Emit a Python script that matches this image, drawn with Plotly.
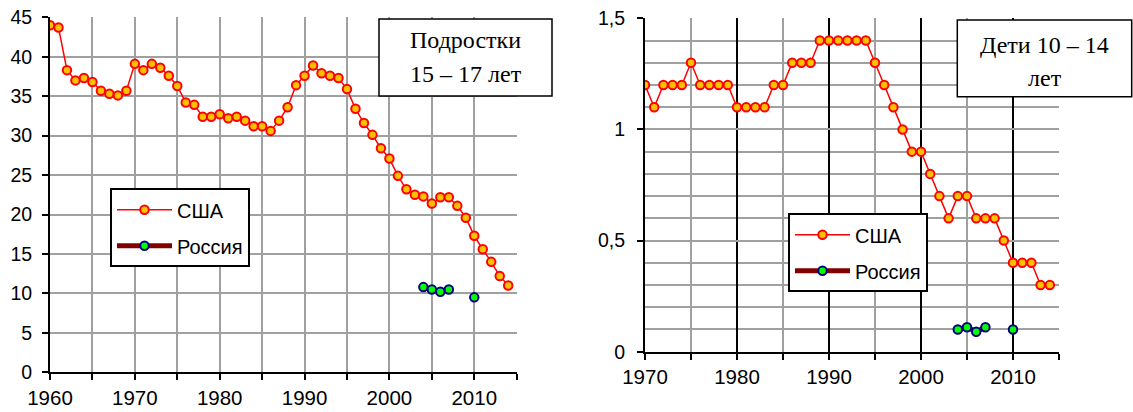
import plotly.graph_objects as go

# ---- data ----
years_teen = list(range(1960, 2015))
usa_teen = [44.0, 43.7, 38.3, 37.0, 37.3, 36.8, 35.7, 35.3, 35.1, 35.7,
            39.1, 38.3, 39.1, 38.6, 37.6, 36.3, 34.2, 33.9, 32.4, 32.4,
            32.7, 32.2, 32.4, 31.9, 31.2, 31.2, 30.6, 31.9, 33.6, 36.4,
            37.6, 38.9, 37.9, 37.6, 37.3, 35.9, 33.4, 31.6, 30.1, 28.4,
            27.1, 24.9, 23.2, 22.5, 22.3, 21.4, 22.2, 22.2, 21.1, 19.6,
            17.3, 15.6, 14.0, 12.2, 11.0]
russia_years = [2004, 2005, 2006, 2007, 2008, 2009, 2010]
russia_teen = [10.8, 10.5, 10.2, 10.5, None, None, 9.5]

years_child = list(range(1970, 2015))
usa_child = [1.2, 1.1, 1.2, 1.2, 1.2, 1.3, 1.2, 1.2, 1.2, 1.2,
             1.1, 1.1, 1.1, 1.1, 1.2, 1.2, 1.3, 1.3, 1.3, 1.4,
             1.4, 1.4, 1.4, 1.4, 1.4, 1.3, 1.2, 1.1, 1.0, 0.9,
             0.9, 0.8, 0.7, 0.6, 0.7, 0.7, 0.6, 0.6, 0.6, 0.5,
             0.4, 0.4, 0.4, 0.3, 0.3]
russia_child = [0.10, 0.11, 0.09, 0.11, None, None, 0.10]

series_names = ["США", "Россия"]
title_teen_lines = ["Подростки", "15 – 17 лет"]
title_child_lines = ["Дети 10 – 14", "лет"]
y2_tickvals = [0, 0.5, 1, 1.5]
y2_ticktext = ["0", "0,5", "1", "1,5"]

W, H = 1133, 412
SANS = "Liberation Sans, Arial, sans-serif"
SERIF = "Liberation Serif, Times New Roman, serif"


def px(x):
    return x / W


def py(y):
    return 1 - y / H


usa_marker = dict(size=8.5, color="#FFC000", line=dict(color="#FF0000", width=2))
rus_marker = dict(size=8.5, color="#00FF00", line=dict(color="#000080", width=2))

fig = go.Figure()
fig.add_trace(go.Scatter(x=years_teen, y=usa_teen, name=series_names[0],
                         mode="lines+markers", line=dict(color="#FF0000", width=1.5),
                         marker=usa_marker, xaxis="x", yaxis="y",
                         legend="legend", legendgroup="a"))
fig.add_trace(go.Scatter(x=russia_years, y=russia_teen, name=series_names[1],
                         mode="lines+markers", line=dict(color="#800000", width=5),
                         marker=rus_marker, connectgaps=False, xaxis="x", yaxis="y",
                         legend="legend", legendgroup="b"))
fig.add_trace(go.Scatter(x=years_child, y=usa_child, name=series_names[0],
                         mode="lines+markers", line=dict(color="#FF0000", width=1.5),
                         marker=usa_marker, xaxis="x2", yaxis="y2",
                         legend="legend2", legendgroup="c"))
fig.add_trace(go.Scatter(x=russia_years, y=russia_child, name=series_names[1],
                         mode="lines+markers", line=dict(color="#800000", width=5),
                         marker=rus_marker, connectgaps=False, xaxis="x2", yaxis="y2",
                         legend="legend2", legendgroup="d"))

GRID = "#A0A0A0"
xtickfont = dict(family=SANS, size=20.5, color="black")
ytickfont = dict(family=SANS, size=19.5, color="black")
legfont = dict(family=SANS, size=20, color="black")

boxes = [
    (379, 552, 19, 96, title_teen_lines, (39.5, 74.5)),
    (957.3, 1131.7, 20, 96.7, title_child_lines, (44.5, 77.8)),
]
shapes = []
annotations = []
for x0, x1, y0, y1, lines, ys in boxes:
    shapes.append(dict(type="rect", xref="paper", yref="paper",
                       x0=px(x0), x1=px(x1), y0=py(y1), y1=py(y0),
                       fillcolor="white", line=dict(color="black", width=1.5),
                       layer="above"))
    for txt, yc in zip(lines, ys):
        annotations.append(dict(text=txt, xref="paper", yref="paper",
                                x=px((x0 + x1) / 2), y=py(yc),
                                xanchor="center", yanchor="middle", showarrow=False,
                                font=dict(family=SERIF, size=24, color="black")))

fig.update_layout(
    width=W, height=H,
    margin=dict(l=0, r=0, t=0, b=0),
    paper_bgcolor="white", plot_bgcolor="white",
    showlegend=True,
    xaxis=dict(domain=[px(50), px(516.7)], range=[1960, 2015], anchor="y",
               tick0=1960, dtick=10, ticks="outside", ticklen=6, tickwidth=2, tickcolor="black",
               showgrid=True, gridcolor=GRID, gridwidth=1.5,
               minor=dict(dtick=5, tick0=1960, ticks="outside", ticklen=6, tickwidth=2,
                          tickcolor="black", showgrid=True, gridcolor=GRID, gridwidth=1.5),
               showline=True, linecolor="black", linewidth=2, zeroline=False,
               tickfont=xtickfont, ticklabelstandoff=0, automargin=False),
    yaxis=dict(domain=[py(372.3), py(17.3)], range=[0, 45], anchor="x",
               dtick=5, ticks="outside", ticklen=6, tickwidth=2, tickcolor="black",
               showgrid=True, gridcolor=GRID, gridwidth=1.5,
               showline=True, linecolor="black", linewidth=2, zeroline=False,
               tickfont=ytickfont, ticklabelstandoff=6, automargin=False),
    xaxis2=dict(domain=[px(645), px(1059)], range=[1970, 2015], anchor="y2",
                tick0=1970, dtick=10, ticks="outside", ticklen=6, tickwidth=2, tickcolor="black",
                showgrid=True, gridcolor="black", gridwidth=2,
                minor=dict(dtick=5, tick0=1970, ticks="outside", ticklen=6, tickwidth=2,
                           tickcolor="black", showgrid=True, gridcolor=GRID, gridwidth=1.5),
                showline=True, linecolor="black", linewidth=2, zeroline=False,
                tickfont=xtickfont, ticklabelstandoff=0, automargin=False),
    yaxis2=dict(domain=[py(351.7), py(18.3)], range=[0, 1.5], anchor="x2",
                tickvals=y2_tickvals, ticktext=y2_ticktext,
                ticks="outside", ticklen=6, tickwidth=2, tickcolor="black",
                showgrid=True, gridcolor=GRID, gridwidth=1.5,
                minor=dict(dtick=0.1, tick0=0, ticks="", showgrid=True, gridcolor=GRID, gridwidth=1.5),
                showline=True, linecolor="black", linewidth=2, zeroline=False,
                tickfont=ytickfont, ticklabelstandoff=8, automargin=False),
    legend=dict(x=px(110), y=py(188.3), xanchor="left", yanchor="top",
                bgcolor="white", bordercolor="black", borderwidth=2,
                font=legfont, tracegroupgap=7, itemwidth=55, traceorder="grouped"),
    legend2=dict(x=px(788), y=py(213.3), xanchor="left", yanchor="top",
                 bgcolor="white", bordercolor="black", borderwidth=2,
                 font=legfont, tracegroupgap=7, itemwidth=55, traceorder="grouped"),
    shapes=shapes,
    annotations=annotations,
)

fig.write_html("out.html", config={"displayModeBar": False},
               post_script="document.body.style.margin='0';document.body.style.padding='0';")
